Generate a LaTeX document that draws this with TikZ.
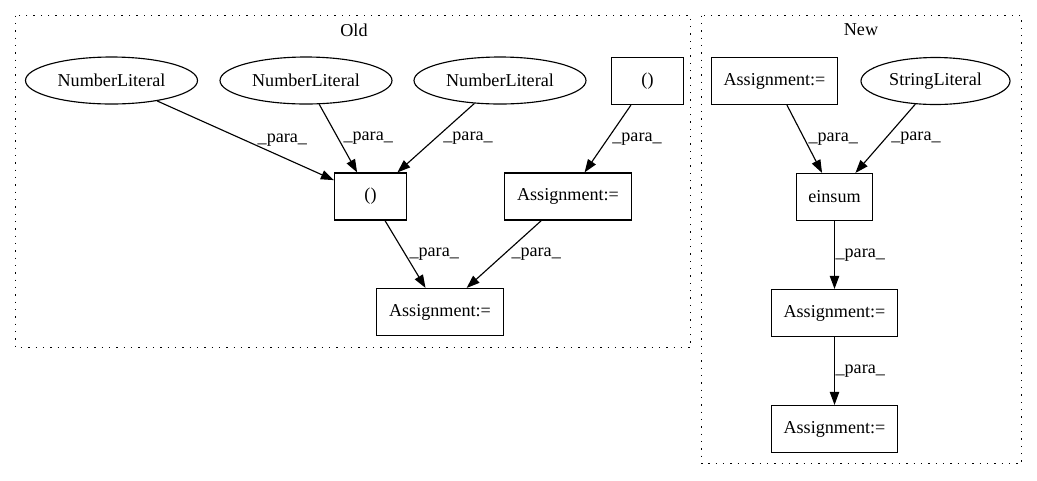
\documentclass[tikz,border=0pt]{standalone}
\usepackage{fontspec}
\setmainfont{Liberation Serif}
\usetikzlibrary{arrows.meta,shapes.geometric}
\begin{document}
\begin{tikzpicture}[x=0.75pt,y=-0.75pt,
  every node/.style={font=\fontsize{13.6}{16}\selectfont},
  box/.style={draw, line width=0.85pt, inner sep=0pt, minimum height=35.25pt, rectangle},
  lit/.style={draw, ellipse, line width=0.85pt, inner sep=0pt, minimum height=35.25pt},
  edge/.style={-{Triangle[length=9.75pt,width=7pt]}, line width=0.85pt},
  lbl/.style={anchor=west, inner sep=0pt},
  cluster/.style={dash pattern=on 1pt off 4.5pt, line width=0.85pt}]
\useasboundingbox (0,0) rectangle (1037,480);
% clusters
\draw[cluster] (15.5,15.5) rectangle (690.5,347.5);
\node (oldt) at (354,30) {Old};
\draw[cluster] (701.5,15.5) rectangle (1021.5,463.5);
\node (newt) at (861,30) {New};
% Old nodes
\node[lit, minimum width=129pt] (nl1) at (111.5,80.5) {NumberLiteral};
\node[lit, minimum width=129pt] (nl2) at (306,80.5) {NumberLiteral};
\node[lit, minimum width=129pt] (nl3) at (500,80.5) {NumberLiteral};
\node[box, minimum width=54pt] (p1) at (647.5,81) {()};
\node[box, minimum width=54pt] (p2) at (370.5,196.5) {()};
\node[box, minimum width=94.8pt] (a1) at (568,196.5) {Assignment:=};
\node[box, minimum width=94.8pt] (a2) at (440,312) {Assignment:=};
% New nodes
\node[box, minimum width=94.3pt] (b1) at (774.5,81) {Assignment:=};
\node[lit, minimum width=111.75pt] (s1) at (935.5,81) {StringLiteral};
\node[box, minimum width=56.8pt] (e1) at (834.5,197) {einsum};
\node[box, minimum width=94.3pt] (b2) at (834.5,313) {Assignment:=};
\node[box, minimum width=94.3pt] (b3) at (834.5,429) {Assignment:=};
% Old edges
\draw[edge] (nl1) -- (p2) node[midway, lbl, xshift=8.7pt] {\_para\_};
\draw[edge] (nl2) -- (p2) node[midway, lbl, xshift=3.6pt] {\_para\_};
\draw[edge] (nl3) -- (p2) node[midway, lbl, xshift=5.2pt] {\_para\_};
\draw[edge] (p1) -- (a1) node[midway, lbl, xshift=3pt] {\_para\_};
\draw[edge] (p2) -- (a2) node[midway, lbl, xshift=2.8pt] {\_para\_};
\draw[edge] (a1) -- (a2) node[midway, lbl, xshift=5.2pt] {\_para\_};
% New edges
\draw[edge] (b1) -- (e1) node[midway, lbl, xshift=2.6pt] {\_para\_};
\draw[edge] (s1) -- (e1) node[midway, lbl, xshift=4pt] {\_para\_};
\draw[edge] (e1) -- (b2) node[midway, lbl, xshift=0.4pt] {\_para\_};
\draw[edge] (b2) -- (b3) node[midway, lbl, xshift=0.4pt] {\_para\_};
\end{tikzpicture}
\end{document}
